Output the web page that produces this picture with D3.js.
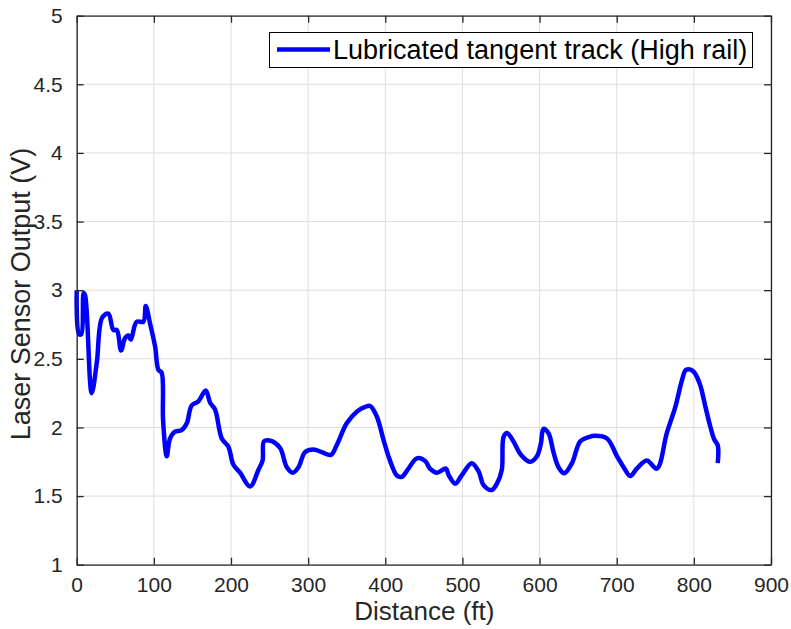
<!DOCTYPE html>
<html><head><meta charset="utf-8">
<script src="https://cdn.jsdelivr.net/npm/d3@7"></script>
<style>body{margin:0;background:#fff}svg{display:block}text{font-family:"Liberation Sans",Arial,Helvetica,sans-serif}</style>
</head><body>
<script>
const distance = [0,3,6,9,11,19.4,26,33,41,47.5,52,57.5,62.6,67,70,72,77.8,86.4,89.5,95,101.6,105.9,110,112,116.7,121,127.5,136,142.7,149,157.7,167.3,173,179.4,188,196.6,203,211.8,224.8,235.5,241,243,253,263.7,272.4,280,287.5,296,307,317.8,329.5,337,350,363,374,380.4,389,397.7,406,415,421.5,430,441,451.7,458,467,478.6,482,490.7,499,512,521,527.4,538,544.7,551,553.3,557.7,566,576,588,596.6,601.8,605,611.7,618,624.6,632,642,652.8,663.6,672,687.4,700.4,709,717.6,726,739,752,765,776,784.7,790,799,807.5,815,821.4,826.6,831,831];
const voltage = [3.0,2.68,2.68,2.98,2.96,2.25,2.47,2.80,2.83,2.71,2.71,2.56,2.65,2.67,2.64,2.67,2.77,2.77,2.885,2.76,2.59,2.42,2.40,2.05,1.79,1.92,1.97,1.98,2.03,2.16,2.19,2.27,2.18,2.13,1.92,1.86,1.73,1.67,1.57,1.69,1.76,1.90,1.90,1.85,1.71,1.67,1.71,1.82,1.84,1.82,1.80,1.87,2.03,2.115,2.15,2.156,2.08,1.91,1.76,1.65,1.64,1.70,1.775,1.755,1.70,1.67,1.70,1.655,1.59,1.65,1.74,1.68,1.58,1.544,1.59,1.69,1.93,1.96,1.90,1.80,1.75,1.79,1.885,1.99,1.957,1.82,1.71,1.666,1.74,1.90,1.93,1.94,1.92,1.79,1.71,1.646,1.70,1.76,1.70,1.96,2.15,2.346,2.42,2.41,2.32,2.15,2.005,1.91,1.87,1.74];
const xTicks = [0,100,200,300,400,500,600,700,800,900];
const yTicks = [1,1.5,2,2.5,3,3.5,4,4.5,5];
const seriesName = "Lubricated tangent track (High rail)";
const xTitle = "Distance (ft)";
const yTitle = "Laser Sensor Output (V)";

const W = 791, H = 629;
const L = 76.7, R = 771, T = 15.7, B = 564.7;
const svg = d3.select("body").append("svg").attr("width", W).attr("height", H);
const x = d3.scaleLinear().domain([0, 900]).range([L, R]);
const y = d3.scaleLinear().domain([1, 5]).range([B, T]);

// grid
const g = svg.append("g");
g.selectAll(".gx").data(xTicks).enter().append("line")
  .attr("x1", d => x(d)).attr("x2", d => x(d)).attr("y1", T).attr("y2", B)
  .attr("stroke", "#dedede").attr("stroke-width", 1);
g.selectAll(".gy").data(yTicks).enter().append("line")
  .attr("y1", d => y(d)).attr("y2", d => y(d)).attr("x1", L).attr("x2", R)
  .attr("stroke", "#dedede").attr("stroke-width", 1);

// line
const data = distance.map((d, i) => [d, voltage[i]]);
svg.append("path").datum(data)
  .attr("fill", "none").attr("stroke", "#0000ff").attr("stroke-width", 4.5)
  .attr("stroke-linejoin", "round")
  .attr("d", d3.line().x(d => x(d[0])).y(d => y(d[1])).curve(d3.curveCatmullRom.alpha(0.5)));

// axes
const axCol = "#262626";
const ax = svg.append("g").attr("transform", `translate(0,${B})`)
  .call(d3.axisBottom(x).tickValues(xTicks).tickSizeInner(-7).tickSizeOuter(0).tickPadding(12.5));
const ay = svg.append("g").attr("transform", `translate(${L},0)`)
  .call(d3.axisLeft(y).tickValues(yTicks).tickFormat(d3.format("")).tickSizeInner(-7).tickSizeOuter(0).tickPadding(14));
const axT = svg.append("g").attr("transform", `translate(0,${T})`)
  .call(d3.axisTop(x).tickValues(xTicks).tickSizeInner(-7).tickSizeOuter(0).tickFormat(""));
const ayR = svg.append("g").attr("transform", `translate(${R},0)`)
  .call(d3.axisRight(y).tickValues(yTicks).tickSizeInner(-7).tickSizeOuter(0).tickFormat(""));
[ax, ay, axT, ayR].forEach(a => {
  a.selectAll("path").attr("stroke", axCol).attr("stroke-width", 1.3);
  a.selectAll("line").attr("stroke", axCol).attr("stroke-width", 1.3);
  a.selectAll("text").attr("fill", axCol).style("font-size", "21px");
});

// titles
svg.append("text").attr("x", (L + R) / 2 + 0.5).attr("y", 620)
  .attr("text-anchor", "middle").style("font-size", "26px").attr("fill", axCol).text(xTitle);
svg.append("text").attr("transform", `translate(30,294) rotate(-90)`)
  .attr("text-anchor", "middle").style("font-size", "27px").attr("fill", axCol).text(yTitle);

// legend
const lg = svg.append("g");
lg.append("rect").attr("x", 269.5).attr("y", 32.5).attr("width", 483).attr("height", 35)
  .attr("fill", "#fff").attr("stroke", "#000").attr("stroke-width", 1);
lg.append("line").attr("x1", 277).attr("x2", 330).attr("y1", 49.5).attr("y2", 49.5)
  .attr("stroke", "#0000ff").attr("stroke-width", 4.5);
lg.append("text").attr("x", 333).attr("y", 59).style("font-size", "27px").attr("fill", "#000").text(seriesName);
</script>
</body></html>
